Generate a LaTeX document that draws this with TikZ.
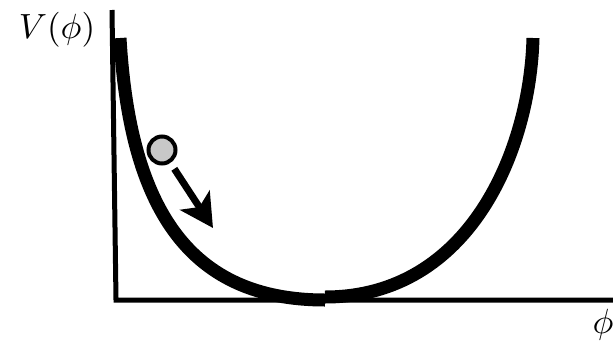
\documentclass[tikz,border=0pt]{standalone}
\usetikzlibrary{arrows.meta}
\definecolor{ballgray}{RGB}{200,200,200}

\begin{document}
\begin{tikzpicture}[x=1pt, y=-1pt,
    axis/.style={line width=5pt},
    potential/.style={line width=13pt},
    push/.style={line width=7pt, -{Stealth[length=33pt, width=35pt, inset=8pt]}},
    marble/.style={circle, draw, line width=4pt, fill=ballgray, minimum size=27pt, inner sep=0pt},
    axislabel/.style={scale=3.5}]
  \clip (0,0) rectangle (613,343);

  \coordinate (Vtop) at (112, 10);
  \coordinate (O) at (116, 300);
  \coordinate (phiend) at (613, 300);
  % the two halves of the well
  \coordinate (Ltop) at (120, 38);
  \coordinate (Lmin) at (325, 300);
  \coordinate (Rmin) at (325, 297);
  \coordinate (Rtop) at (533, 38);

  \draw[axis] (Vtop) -- (O) -- (phiend);
  \draw[potential] (Ltop) .. controls (130, 210) and (190, 300) .. (Lmin);
  \draw[potential] (Rmin) .. controls (470, 297) and (530, 150) .. (Rtop);

  % rolling ball
  \node[marble] (ball) at (162, 150) {};
  \coordinate (pushend) at (213, 228);
  \draw[push, shorten <=7pt] (ball) -- (pushend);

  \node[axislabel] (Vlabel) at (57, 30) {$V(\phi)$};
  \node[axislabel] (philabel) at (603, 325) {$\phi$};
\end{tikzpicture}
\end{document}
